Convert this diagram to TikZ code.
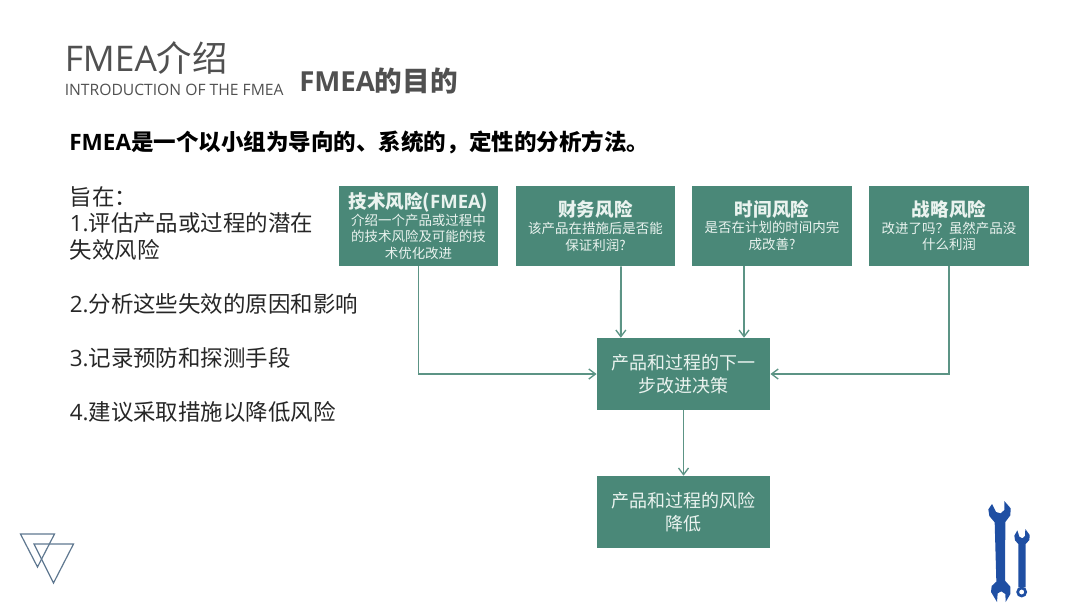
\documentclass[tikz,border=0pt]{standalone}
\usepackage{fontspec}
\usepackage{xcolor}
\usetikzlibrary{arrows.meta}
\setmainfont{Noto Sans CJK SC}
\newfontfamily\latfont{Open Sans}
\definecolor{boxgreen}{HTML}{4A8878}
\definecolor{boxtext}{HTML}{EAF3EF}
\definecolor{titlegray}{HTML}{505050}
\definecolor{toolblue}{HTML}{1F4FA3}
\definecolor{trigray}{HTML}{5F7890}
\tikzset{
	riskbox/.style={fill=boxgreen,text=boxtext,minimum width=119.5pt,minimum height=60pt,inner sep=0pt,align=center,font=\fontsize{10.1}{12.6}\selectfont},
	stepbox/.style={fill=boxgreen,text=boxtext,minimum width=130pt,minimum height=54pt,inner sep=0pt,align=center,font=\fontsize{13.5}{17}\selectfont},
	bodytext/.style={anchor=west,inner sep=0pt,text=black!85,font=\fontsize{16.85}{20}\selectfont},
	flow/.style={draw=boxgreen!90!white,line width=1.4pt,-{Straight Barb[length=5pt,width=7.5pt,line width=1pt]}}
}
\newcommand{\risktitle}[1]{{\fontsize{13.9}{15}\selectfont\bfseries #1}}
\begin{document}
\begin{tikzpicture}[x=0.75pt,y=-0.75pt]
	\useasboundingbox (0,0) rectangle (1080,608);

	% Draw titles
	\node[anchor=west,inner sep=0pt,text=titlegray,font=\fontsize{26.5}{30}\selectfont] (maintitle) at (64.5,58) {{\latfont FMEA}介绍};
	\node[anchor=west,inner sep=0pt,text=titlegray,font=\fontsize{11.75}{14}\latfont] (subtitle) at (64.5,89.5) {INTRODUCTION OF THE FMEA};
	\node[anchor=west,inner sep=0pt,text=titlegray,font=\fontsize{20.7}{24}\bfseries] (purpose) at (299,81) {{\latfont\bfseries FMEA}的目的};
	\node[anchor=west,inner sep=0pt,text=black,font=\fontsize{16.9}{20}\bfseries] (definition) at (69,142) {{\latfont\bfseries FMEA}是一个以小组为导向的、系统的，定性的分析方法。};

	% Add left column
	\node[bodytext] (aimhead) at (69.5,197) {旨在：};
	\node[bodytext] (aimone) at (69.5,223) {{\latfont 1.}评估产品或过程的潜在};
	\node[bodytext] (aimonemore) at (69.5,250) {失效风险};
	\node[bodytext] (aimtwo) at (69.5,304) {{\latfont 2.}分析这些失效的原因和影响};
	\node[bodytext] (aimthree) at (69.5,358) {{\latfont 3.}记录预防和探测手段};
	\node[bodytext] (aimfour) at (69.5,412) {{\latfont 4.}建议采取措施以降低风险};

	% Draw the risk boxes
	\node[riskbox] (risktech) at (418.5,226) {\risktitle{技术风险({\latfont\bfseries FMEA})}\\介绍一个产品或过程中\\的技术风险及可能的技\\术优化改进};
	\node[riskbox] (riskcost) at (595.5,226) {\risktitle{财务风险}\\该产品在措施后是否能\\保证利润?};
	\node[riskbox] (risktime) at (772,225.5) {\risktitle{时间风险}\\是否在计划的时间内完\\成改善?};
	\node[riskbox] (riskplan) at (949,225.5) {\risktitle{战略风险}\\改进了吗？虽然产品没\\什么利润};

	% Draw the step boxes
	\node[stepbox] (decision) at (683.5,374) {产品和过程的下一\\步改进决策};
	\node[stepbox] (lowered) at (683.5,512) {产品和过程的风险\\降低};

	% Draw connectors
	\draw[flow] (risktech) |- (decision);
	\draw[flow] ([xshift=19.1pt]riskcost.south) -- ([xshift=-47pt]decision.north);
	\draw[flow] ([xshift=-21pt]risktime.south) -- ([xshift=45.4pt]decision.north);
	\draw[flow] (riskplan) |- (decision);
	\draw[flow] (decision) -- (lowered);

	% Draw triangles
	\draw[trigray,line width=0.9pt,line join=miter] (20.5,534) -- (54.5,534) -- (37.5,567) -- cycle;
	\draw[trigray,line width=0.9pt,line join=miter] (34,544) -- (73.5,544) -- (53.5,583) -- cycle;

	% Draw the wrenches
	\begin{scope}[shift={(960,490)},x=0.25pt,y=-0.25pt]
		\fill[toolblue] (96,42) -- (85,58) -- (88,78) -- (104,97) -- (109,275) -- (95,288) -- (93,306) -- (111,336) -- (113,310) -- (124,304) -- (136,312) -- (137,336) -- (151,312) -- (151,290) -- (135,272) -- (136,96) -- (151,76) -- (152,55) -- (133,33) -- (133,60) -- (122,70) -- (108,66) -- cycle;
		\fill[toolblue] (172,121) -- (163,137) -- (165,151) -- (175,162) -- (175,292) -- (197,292) -- (197,162) -- (208,150) -- (209,135) -- (196,117) -- (195,138) -- (187,145) -- (178,140) -- cycle;
		\draw[toolblue,line width=2pt] (185,306) circle (12);
	\end{scope}
\end{tikzpicture}
\end{document}
